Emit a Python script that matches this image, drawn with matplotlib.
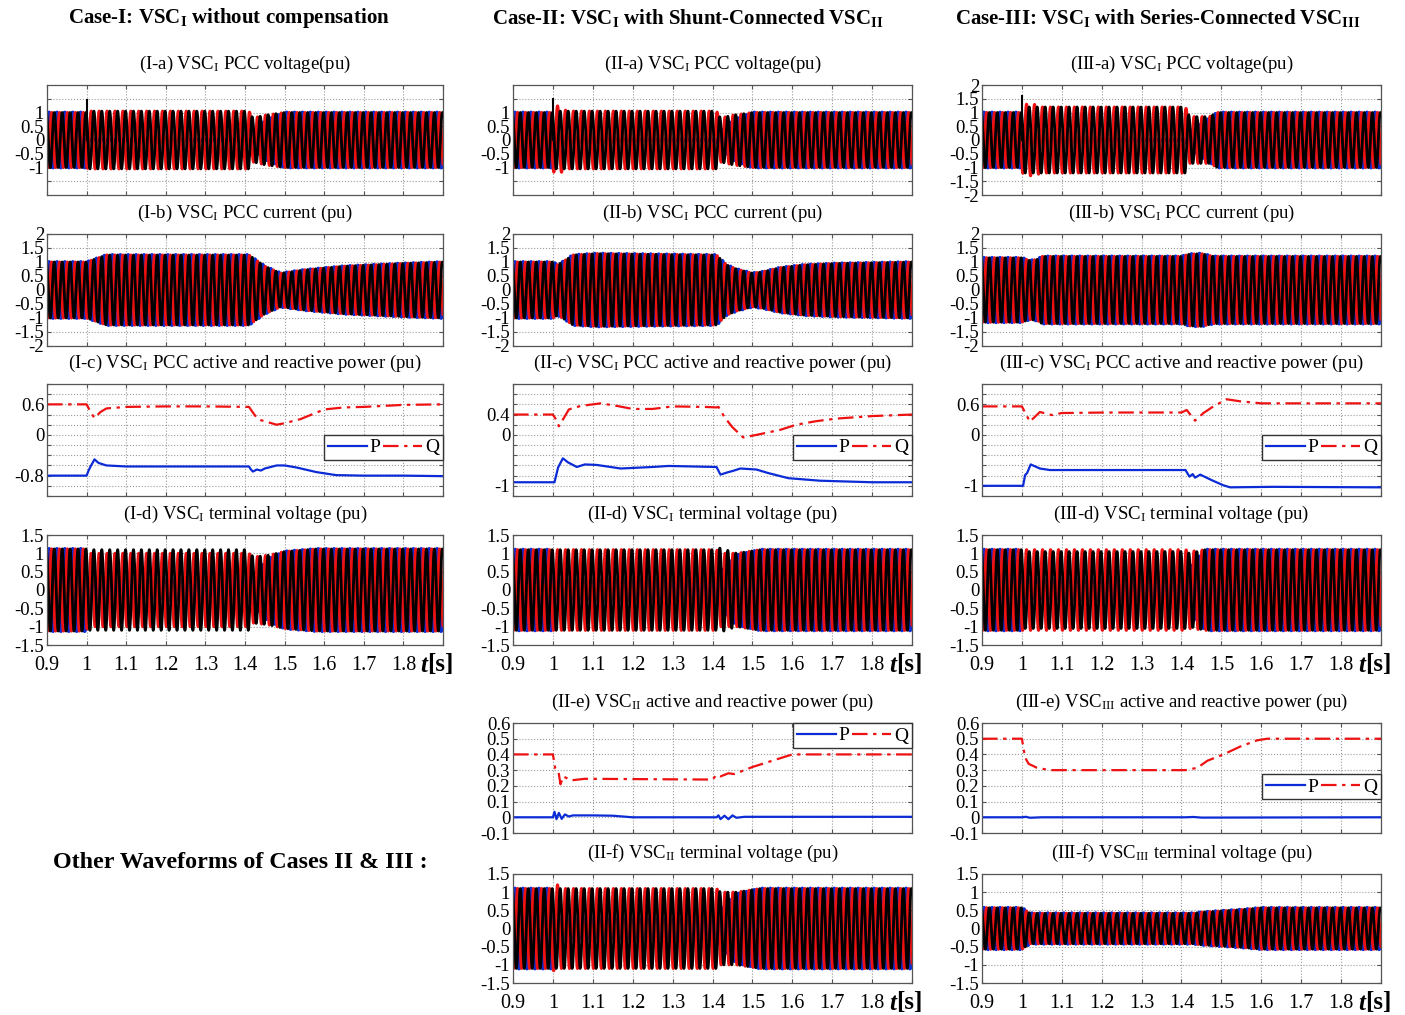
import numpy as np
import matplotlib.pyplot as plt

W, H = 1405, 1015
plt.rcParams['font.family'] = ['Liberation Serif', 'DejaVu Serif']
plt.rcParams['mathtext.fontset'] = 'custom'
plt.rcParams['mathtext.rm'] = 'Liberation Serif'
plt.rcParams['mathtext.it'] = 'Liberation Serif:italic'
plt.rcParams['mathtext.bf'] = 'Liberation Serif:bold'
plt.rcParams['axes.unicode_minus'] = False

BLUE = '#0b2bd6'
RED = '#ee1111'
FREQ = 50.0

# ---- three-phase waveform envelopes (time keys, peak amplitude per phase) ----
IA_T = [0.9, 1.0, 1.003, 1.41, 1.42, 1.45, 1.5, 1.9]
IA_BLUE = [1.0, 1.0, 0.0, 0.0, 0.3, 0.7, 1.0, 1.0]
IA_RED = [1.0, 1.0, 1.05, 1.05, 0.8, 0.9, 1.0, 1.0]
IA_BLACK = [1.0, 1.0, 1.05, 1.05, 0.8, 0.9, 1.0, 1.0]

IIA_T = [0.9, 1.0, 1.003, 1.01, 1.025, 1.035, 1.41, 1.42, 1.45, 1.5, 1.9]
IIA_BLUE = [1.0, 1.0, 0.0, 0.0, 0.0, 0.0, 0.0, 0.3, 0.7, 1.0, 1.0]
IIA_RED = [1.0, 1.0, 1.25, 1.25, 1.15, 1.05, 1.05, 0.8, 0.9, 1.0, 1.0]
IIA_BLACK = [1.0, 1.0, 1.05, 1.05, 1.05, 1.05, 1.05, 0.8, 0.9, 1.0, 1.0]

IIIA_T = [0.9, 1.0, 1.003, 1.03, 1.05, 1.41, 1.42, 1.47, 1.49, 1.9]
IIIA_BLUE = [1.0, 1.0, 0.0, 0.0, 0.0, 0.0, 0.3, 0.8, 1.0, 1.0]
IIIA_RED = [1.0, 1.0, 1.3, 1.3, 1.2, 1.2, 0.85, 0.85, 1.0, 1.0]
IIIA_BLACK = [1.0, 1.0, 1.2, 1.2, 1.2, 1.2, 0.85, 0.85, 1.0, 1.0]

IB_T = [0.9, 1.0, 1.02, 1.05, 1.41, 1.45, 1.49, 1.55, 1.65, 1.8, 1.9]
IB_AMP = [1.0, 1.0, 1.1, 1.25, 1.25, 0.85, 0.6, 0.72, 0.85, 0.95, 1.0]

IIB_T = [0.9, 1.0, 1.012, 1.035, 1.05, 1.11, 1.41, 1.435, 1.46, 1.5, 1.525, 1.57, 1.63, 1.71, 1.9]
IIB_AMP = [1.0, 1.0, 0.9, 1.1, 1.25, 1.3, 1.25, 0.9, 0.75, 0.6, 0.65, 0.8, 0.9, 0.95, 1.0]

IIIB_T = [0.9, 1.0, 1.02, 1.04, 1.05, 1.4, 1.42, 1.45, 1.48, 1.9]
IIIB_AMP = [1.15, 1.15, 1.05, 1.1, 1.2, 1.2, 1.28, 1.3, 1.2, 1.2]

ID_T = [0.9, 1.0, 1.003, 1.41, 1.42, 1.46, 1.5, 1.58, 1.9]
ID_BLUE = [1.12, 1.12, 0.3, 0.3, 0.4, 0.85, 1.05, 1.12, 1.12]
ID_RED = [1.12, 1.12, 1.0, 1.0, 0.9, 0.95, 1.05, 1.12, 1.12]
ID_BLACK = [1.12, 1.12, 1.1, 1.1, 0.9, 0.95, 1.05, 1.12, 1.12]

IID_T = [0.9, 1.0, 1.003, 1.41, 1.42, 1.46, 1.52, 1.9]
IID_BLUE = [1.1, 1.1, 0.3, 0.3, 0.5, 0.95, 1.1, 1.1]
IID_RED = [1.1, 1.1, 1.1, 1.1, 1.0, 1.0, 1.1, 1.1]
IID_BLACK = [1.1, 1.1, 1.1, 1.1, 1.15, 1.0, 1.1, 1.1]

IIID_T = [0.9, 1.0, 1.003, 1.41, 1.42, 1.46, 1.9]
IIID_BLUE = [1.1, 1.1, 0.3, 0.3, 0.6, 1.1, 1.1]
IIID_RED = [1.1, 1.1, 1.1, 1.1, 1.05, 1.1, 1.1]
IIID_BLACK = [1.1, 1.1, 1.05, 1.05, 1.0, 1.1, 1.1]

IIF_T = [0.9, 1.0, 1.003, 1.012, 1.02, 1.41, 1.42, 1.46, 1.52, 1.9]
IIF_BLUE = [1.1, 1.1, 0.3, 0.3, 0.3, 0.3, 0.5, 0.95, 1.1, 1.1]
IIF_RED = [1.1, 1.1, 1.2, 1.2, 1.1, 1.1, 1.0, 1.0, 1.1, 1.1]
IIF_BLACK = [1.1, 1.1, 1.1, 1.1, 1.1, 1.1, 1.0, 1.0, 1.1, 1.1]

IIIF_T = [0.9, 1.0, 1.02, 1.43, 1.45, 1.55, 1.6, 1.9]
IIIF_AMP = [0.57, 0.57, 0.42, 0.42, 0.45, 0.52, 0.57, 0.57]

# transient spikes: (time, low, high, colour)
IA_SPIKE = (1.0, 0.0, 1.45, 'k')
IIA_SPIKE = (1.0, 0.0, 1.5, 'k')
IIIA_SPIKE = (1.0, 0.0, 1.6, 'k')

# ---- active / reactive power ----
IC_Q_T = [0.9, 1.0, 1.01, 1.02, 1.035, 1.05, 1.1, 1.2, 1.3, 1.41, 1.43, 1.44, 1.48, 1.5, 1.54, 1.6, 1.65, 1.7, 1.8, 1.9]
IC_Q = [0.6, 0.6, 0.45, 0.33, 0.45, 0.52, 0.55, 0.56, 0.56, 0.55, 0.33, 0.29, 0.2, 0.23, 0.31, 0.5, 0.54, 0.55, 0.59, 0.6]
IC_P_T = [0.9, 1.0, 1.005, 1.01, 1.02, 1.03, 1.05, 1.1, 1.2, 1.3, 1.41, 1.415, 1.42, 1.43, 1.44, 1.45, 1.48, 1.5, 1.53, 1.58, 1.63, 1.7, 1.8, 1.9]
IC_P = [-0.8, -0.8, -0.7, -0.62, -0.48, -0.55, -0.6, -0.62, -0.62, -0.62, -0.62, -0.68, -0.72, -0.68, -0.7, -0.66, -0.6, -0.6, -0.64, -0.73, -0.79, -0.8, -0.8, -0.81]

IIC_Q_T = [0.9, 1.0, 1.008, 1.015, 1.025, 1.04, 1.07, 1.1, 1.12, 1.16, 1.2, 1.25, 1.3, 1.38, 1.41, 1.415, 1.43, 1.45, 1.477, 1.51, 1.57, 1.61, 1.66, 1.71, 1.8, 1.9]
IIC_Q = [0.4, 0.4, 0.3, 0.17, 0.3, 0.5, 0.57, 0.6, 0.62, 0.57, 0.51, 0.51, 0.56, 0.55, 0.54, 0.55, 0.35, 0.15, -0.05, 0.0, 0.1, 0.2, 0.27, 0.32, 0.37, 0.4]
IIC_P_T = [0.9, 1.004, 1.013, 1.025, 1.038, 1.06, 1.08, 1.11, 1.17, 1.25, 1.29, 1.41, 1.42, 1.44, 1.45, 1.47, 1.51, 1.54, 1.59, 1.67, 1.8, 1.9]
IIC_P = [-0.93, -0.93, -0.64, -0.46, -0.54, -0.63, -0.58, -0.59, -0.66, -0.63, -0.61, -0.63, -0.78, -0.73, -0.71, -0.66, -0.68, -0.75, -0.85, -0.9, -0.93, -0.93]

IIIC_Q_T = [0.9, 1.0, 1.02, 1.045, 1.075, 1.1, 1.21, 1.4, 1.413, 1.434, 1.455, 1.48, 1.513, 1.547, 1.6, 1.9]
IIIC_Q = [0.56, 0.56, 0.26, 0.45, 0.39, 0.43, 0.44, 0.44, 0.49, 0.28, 0.43, 0.56, 0.7, 0.66, 0.62, 0.62]
IIIC_P_T = [0.9, 1.003, 1.008, 1.013, 1.022, 1.045, 1.07, 1.41, 1.42, 1.428, 1.434, 1.447, 1.476, 1.505, 1.522, 1.63, 1.9]
IIIC_P = [-1.0, -1.0, -0.79, -0.75, -0.58, -0.66, -0.69, -0.69, -0.82, -0.77, -0.84, -0.78, -0.89, -0.99, -1.03, -1.02, -1.03]

IIE_Q_T = [0.9, 1.0, 1.006, 1.014, 1.019, 1.026, 1.046, 1.08, 1.4, 1.41, 1.42, 1.44, 1.455, 1.5, 1.55, 1.6, 1.9]
IIE_Q = [0.4, 0.4, 0.31, 0.29, 0.21, 0.26, 0.235, 0.245, 0.24, 0.27, 0.26, 0.28, 0.275, 0.32, 0.36, 0.4, 0.4]
IIE_P_T = [0.9, 1.0, 1.004, 1.009, 1.015, 1.022, 1.03, 1.04, 1.05, 1.1, 1.15, 1.2, 1.41, 1.415, 1.42, 1.43, 1.44, 1.45, 1.46, 1.48, 1.9]
IIE_P = [0.0, 0.0, 0.035, -0.012, 0.028, -0.01, 0.018, 0.005, 0.012, 0.012, 0.01, 0.0, 0.0, 0.012, -0.012, 0.01, -0.012, 0.012, -0.003, 0.003, 0.003]

IIIE_Q_T = [0.9, 1.0, 1.008, 1.017, 1.038, 1.07, 1.41, 1.44, 1.465, 1.505, 1.547, 1.59, 1.615, 1.9]
IIIE_Q = [0.5, 0.5, 0.38, 0.34, 0.315, 0.3, 0.3, 0.315, 0.36, 0.4, 0.45, 0.49, 0.5, 0.5]
IIIE_P_T = [0.9, 1.0, 1.01, 1.02, 1.05, 1.41, 1.43, 1.45, 1.9]
IIIE_P = [0.0, 0.0, 0.003, -0.003, 0.0, 0.0, 0.002, -0.002, 0.0]

# ---- ticks ----
X_TICKS = [0.9, 1.0, 1.1, 1.2, 1.3, 1.4, 1.5, 1.6, 1.7, 1.8, 1.9]
X_LABELS = ['0.9', '1', '1.1', '1.2', '1.3', '1.4', '1.5', '1.6', '1.7', '1.8', '']
Y_A = [-1.5, -1, -0.5, 0, 0.5, 1, 1.5]
Y_A_LAB = ['', '-1', '-0.5', '0', '0.5', '1', '']
Y_2 = [-2, -1.5, -1, -0.5, 0, 0.5, 1, 1.5, 2]
Y_2_LAB = ['-2', '-1.5', '-1', '-0.5', '0', '0.5', '1', '1.5', '2']
Y_15 = [-1.5, -1, -0.5, 0, 0.5, 1, 1.5]
Y_15_LAB = ['-1.5', '-1', '-0.5', '0', '0.5', '1', '1.5']
Y_PQ = [-1.2, -1.0, -0.8, -0.6, -0.4, -0.2, 0.0, 0.2, 0.4, 0.6, 0.8, 1.0]
Y_PQ_I = ['', '', '-0.8', '', '', '', '0', '', '', '0.6', '', '']
Y_PQ_II = ['', '-1', '', '', '', '', '0', '', '0.4', '', '', '']
Y_PQ_III = ['', '-1', '', '', '', '', '0', '', '', '0.6', '', '']
Y_E = [-0.1, 0, 0.1, 0.2, 0.3, 0.4, 0.5, 0.6]
Y_E_LAB = ['-0.1', '0', '0.1', '0.2', '0.3', '0.4', '0.5', '0.6']

COL_X = [(47, 443), (513, 912), (982, 1381)]
ROW_Y = {'a': (85, 195), 'b': (234, 346), 'c': (384, 496), 'd': (535, 645),
         'e': (723, 833), 'f': (874, 983)}


def make_axes(fig, col, row):
    x0, x1 = COL_X[col]
    y0, y1 = ROW_Y[row]
    ax = fig.add_axes([x0 / W, 1 - y1 / H, (x1 - x0) / W, (y1 - y0) / H])
    ax.set_xlim(0.9, 1.9)
    ax.set_xticks(X_TICKS)
    ax.set_xticklabels([])
    ax.grid(True, ls=':', color='#9a9a9a', lw=0.8)
    ax.set_axisbelow(True)
    ax.tick_params(direction='in', length=3, top=True, right=True,
                   labelsize=13.5, pad=2, color='#555555')
    ax.tick_params(axis='x', labelsize=14.5, pad=8)
    for s in ax.spines.values():
        s.set_color('#555555')
        s.set_linewidth(0.9)
    return ax


def set_y(ax, ticks, labels, lim):
    ax.set_ylim(*lim)
    ax.set_yticks(ticks)
    ax.set_yticklabels(labels)


def bottom_labels(ax):
    ax.set_xticklabels(X_LABELS)
    ax.annotate('t', xy=(1, 0), xycoords='axes fraction', xytext=(-16, -20),
                textcoords='offset pixels', ha='right', va='center',
                fontsize=18, fontweight='bold', fontstyle='italic')
    ax.annotate('[s]', xy=(1, 0), xycoords='axes fraction', xytext=(-16, -20),
                textcoords='offset pixels', ha='left', va='center',
                fontsize=18, fontweight='bold')


def plot_phases(ax, t_keys, amp_blue, amp_red, amp_black, spike=None):
    t = np.linspace(0.9, 1.9, 20001)
    w = 2 * np.pi * FREQ * t
    for amp, shift, col, lw in ((amp_blue, 0.0, BLUE, 2.8),
                                (amp_red, -2 * np.pi / 3, RED, 2.2),
                                (amp_black, 2 * np.pi / 3, 'k', 2.0)):
        env = np.interp(t, t_keys, amp)
        ax.plot(t, env * np.sin(w + shift), color=col, lw=lw)
    if spike is not None:
        ax.plot([spike[0], spike[0]], [spike[1], spike[2]], color=spike[3], lw=1.5)


def plot_pq(ax, pt, p, qt, q, anchor):
    ax.plot(pt, p, color=BLUE, lw=1.6, label='P')
    ax.plot(qt, q, color=RED, lw=1.6, ls=(0, (7, 2.5, 1.5, 2.5)), label='Q')
    leg = ax.legend(ncol=2, loc='upper right', bbox_to_anchor=(1, anchor),
                    borderaxespad=0, fontsize=14, handlelength=2.0,
                    handletextpad=0.15, columnspacing=0.15, borderpad=0.2,
                    fancybox=False, framealpha=1)
    leg.get_frame().set_edgecolor('#333333')
    leg.get_frame().set_linewidth(1.0)


fig = plt.figure(figsize=(W / 100, H / 100), dpi=100)

TITLE_KW = dict(fontsize=13.5, pad=11.5)

# column headers
fig.text(229 / W, 1 - 18 / H, r'Case-I: VSC$_\mathbf{I}$ without compensation',
         fontsize=15, fontweight='bold', ha='center', va='center')
fig.text(688 / W, 1 - 18 / H, r'Case-II: VSC$_\mathbf{I}$ with Shunt-Connected VSC$_\mathbf{II}$',
         fontsize=15, fontweight='bold', ha='center', va='center')
fig.text(1158 / W, 1 - 18 / H, r'Case-III: VSC$_\mathbf{I}$ with Series-Connected VSC$_\mathbf{III}$',
         fontsize=15, fontweight='bold', ha='center', va='center')
fig.text(53 / W, 1 - 862 / H, 'Other Waveforms of Cases II & III :',
         fontsize=17.3, fontweight='bold', ha='left', va='center')

# row a
ax = make_axes(fig, 0, 'a')
plot_phases(ax, IA_T, IA_BLUE, IA_RED, IA_BLACK, IA_SPIKE)
set_y(ax, Y_A, Y_A_LAB, (-2, 2))
ax.set_title(r'(I-a) VSC$_\mathrm{I}$ PCC voltage(pu)', **TITLE_KW)

ax = make_axes(fig, 1, 'a')
plot_phases(ax, IIA_T, IIA_BLUE, IIA_RED, IIA_BLACK, IIA_SPIKE)
set_y(ax, Y_A, Y_A_LAB, (-2, 2))
ax.set_title(r'(II-a) VSC$_\mathrm{I}$ PCC voltage(pu)', **TITLE_KW)

ax = make_axes(fig, 2, 'a')
plot_phases(ax, IIIA_T, IIIA_BLUE, IIIA_RED, IIIA_BLACK, IIIA_SPIKE)
set_y(ax, Y_2, Y_2_LAB, (-2, 2))
ax.set_title(r'(III-a) VSC$_\mathrm{I}$ PCC voltage(pu)', **TITLE_KW)

# row b
ax = make_axes(fig, 0, 'b')
plot_phases(ax, IB_T, IB_AMP, IB_AMP, IB_AMP)
set_y(ax, Y_2, Y_2_LAB, (-2, 2))
ax.set_title(r'(I-b) VSC$_\mathrm{I}$ PCC current (pu)', **TITLE_KW)

ax = make_axes(fig, 1, 'b')
plot_phases(ax, IIB_T, IIB_AMP, IIB_AMP, IIB_AMP)
set_y(ax, Y_2, Y_2_LAB, (-2, 2))
ax.set_title(r'(II-b) VSC$_\mathrm{I}$ PCC current (pu)', **TITLE_KW)

ax = make_axes(fig, 2, 'b')
plot_phases(ax, IIIB_T, IIIB_AMP, IIIB_AMP, IIIB_AMP)
set_y(ax, Y_2, Y_2_LAB, (-2, 2))
ax.set_title(r'(III-b) VSC$_\mathrm{I}$ PCC current (pu)', **TITLE_KW)

# row c
ax = make_axes(fig, 0, 'c')
plot_pq(ax, IC_P_T, IC_P, IC_Q_T, IC_Q, 0.545)
set_y(ax, Y_PQ, Y_PQ_I, (-1.2, 1.0))
ax.set_title(r'(I-c) VSC$_\mathrm{I}$ PCC active and reactive power (pu)', **TITLE_KW)

ax = make_axes(fig, 1, 'c')
plot_pq(ax, IIC_P_T, IIC_P, IIC_Q_T, IIC_Q, 0.545)
set_y(ax, Y_PQ, Y_PQ_II, (-1.2, 1.0))
ax.set_title(r'(II-c) VSC$_\mathrm{I}$ PCC active and reactive power (pu)', **TITLE_KW)

ax = make_axes(fig, 2, 'c')
plot_pq(ax, IIIC_P_T, IIIC_P, IIIC_Q_T, IIIC_Q, 0.545)
set_y(ax, Y_PQ, Y_PQ_III, (-1.2, 1.0))
ax.set_title(r'(III-c) VSC$_\mathrm{I}$ PCC active and reactive power (pu)', **TITLE_KW)

# row d
ax = make_axes(fig, 0, 'd')
plot_phases(ax, ID_T, ID_BLUE, ID_RED, ID_BLACK)
set_y(ax, Y_15, Y_15_LAB, (-1.5, 1.5))
ax.set_title(r'(I-d) VSC$_\mathrm{I}$ terminal voltage (pu)', **TITLE_KW)
bottom_labels(ax)

ax = make_axes(fig, 1, 'd')
plot_phases(ax, IID_T, IID_BLUE, IID_RED, IID_BLACK)
set_y(ax, Y_15, Y_15_LAB, (-1.5, 1.5))
ax.set_title(r'(II-d) VSC$_\mathrm{I}$ terminal voltage (pu)', **TITLE_KW)
bottom_labels(ax)

ax = make_axes(fig, 2, 'd')
plot_phases(ax, IIID_T, IIID_BLUE, IIID_RED, IIID_BLACK)
set_y(ax, Y_15, Y_15_LAB, (-1.5, 1.5))
ax.set_title(r'(III-d) VSC$_\mathrm{I}$ terminal voltage (pu)', **TITLE_KW)
bottom_labels(ax)

# row e
ax = make_axes(fig, 1, 'e')
plot_pq(ax, IIE_P_T, IIE_P, IIE_Q_T, IIE_Q, 1.0)
set_y(ax, Y_E, Y_E_LAB, (-0.1, 0.6))
ax.set_title(r'(II-e) VSC$_\mathrm{II}$ active and reactive power (pu)', **TITLE_KW)

ax = make_axes(fig, 2, 'e')
plot_pq(ax, IIIE_P_T, IIIE_P, IIIE_Q_T, IIIE_Q, 0.536)
set_y(ax, Y_E, Y_E_LAB, (-0.1, 0.6))
ax.set_title(r'(III-e) VSC$_\mathrm{III}$ active and reactive power (pu)', **TITLE_KW)

# row f
ax = make_axes(fig, 1, 'f')
plot_phases(ax, IIF_T, IIF_BLUE, IIF_RED, IIF_BLACK)
set_y(ax, Y_15, Y_15_LAB, (-1.5, 1.5))
ax.set_title(r'(II-f) VSC$_\mathrm{II}$ terminal voltage (pu)', **TITLE_KW)
bottom_labels(ax)

ax = make_axes(fig, 2, 'f')
plot_phases(ax, IIIF_T, IIIF_AMP, IIIF_AMP, IIIF_AMP)
set_y(ax, Y_15, Y_15_LAB, (-1.5, 1.5))
ax.set_title(r'(III-f) VSC$_\mathrm{III}$ terminal voltage (pu)', **TITLE_KW)
bottom_labels(ax)

fig.savefig('out.png', dpi=100)
